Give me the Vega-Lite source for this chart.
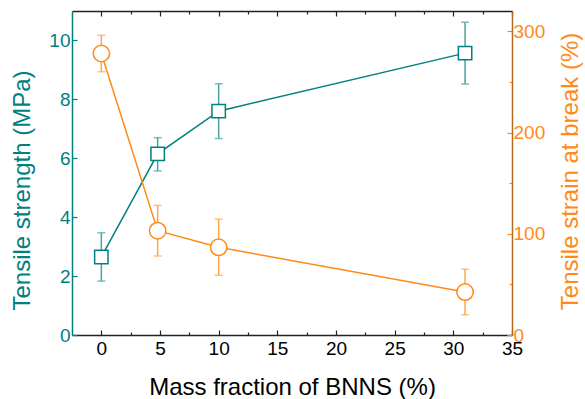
{
  "$schema": "https://vega.github.io/schema/vega-lite/v6.json",
  "width": 440,
  "height": 324,
  "autosize": "none",
  "padding": {"left": 72, "top": 11, "right": 73, "bottom": 64},
  "background": "white",
  "config": {
    "view": {"stroke": null},
    "font": "Liberation Sans",
    "axis": {"labelFont": "Liberation Sans", "titleFont": "Liberation Sans", "labelFontSize": 19, "titleFontSize": 24, "titleFontWeight": "normal", "grid": false, "domainWidth": 1.5, "tickWidth": 1.2}
  },
  "datasets": {
    "strength": [
      {"mass": 0, "value": 2.65, "lo": 1.83, "hi": 3.47},
      {"mass": 4.8, "value": 6.15, "lo": 5.57, "hi": 6.7},
      {"mass": 10, "value": 7.6, "lo": 6.67, "hi": 8.53},
      {"mass": 31, "value": 9.57, "lo": 8.52, "hi": 10.62}
    ],
    "strain": [
      {"mass": 0, "value": 278, "lo": 260, "hi": 296},
      {"mass": 4.8, "value": 103, "lo": 78, "hi": 128},
      {"mass": 10, "value": 86.6, "lo": 59, "hi": 114.5},
      {"mass": 31, "value": 42.4, "lo": 20, "hi": 65}
    ]
  },
  "layer": [
    {
      "data": {"name": "strength"},
      "encoding": {
        "x": {"field": "mass", "type": "quantitative",
          "scale": {"domain": [-2.5, 35], "nice": false, "zero": false},
          "axis": {"orient": "bottom", "title": "Mass fraction of BNNS (%)", "values": [0, 2.5, 5, 7.5, 10, 12.5, 15, 17.5, 20, 22.5, 25, 27.5, 30, 32.5, 35],
            "labelExpr": "datum.value % 5 === 0 ? datum.label : ''",
            "tickSize": {"condition": {"test": "datum.value % 5 === 0", "value": -5}, "value": -3},
            "domainColor": "#222222", "tickColor": "#222222", "labelColor": "black", "titleColor": "black", "labelPadding": 9, "titlePadding": 17, "labelFlush": false}
        }
      },
      "layer": [
        {"mark": {"type": "line", "color": "#00807f", "strokeWidth": 1.5},
         "encoding": {"y": {"field": "value", "type": "quantitative", "title": "Tensile strength (MPa)",
           "scale": {"domain": [0, 11], "nice": false},
           "axis": {"orient": "left", "values": [0, 1, 2, 3, 4, 5, 6, 7, 8, 9, 10],
             "labelExpr": "datum.value % 2 === 0 ? datum.label : ''",
             "tickSize": {"condition": {"test": "datum.value % 2 === 0", "value": -5}, "value": -3},
             "titleY": 179,
             "domainColor": "#00807f", "tickColor": "#00807f", "labelColor": "#00807f", "titleColor": "#00807f", "labelPadding": 7, "titlePadding": 14}}}},
        {"mark": {"type": "errorbar", "ticks": {"size": 8}, "color": "#4aa3a3", "thickness": 1.5},
         "encoding": {"y": {"field": "lo", "type": "quantitative", "title": "Tensile strength (MPa)"}, "y2": {"field": "hi"}}},
        {"mark": {"type": "point", "shape": "square", "size": 180, "filled": true, "fill": "white", "stroke": "#00807f", "strokeWidth": 1.5, "opacity": 1},
         "encoding": {"y": {"field": "value", "type": "quantitative", "title": "Tensile strength (MPa)"}}}
      ]
    },
    {
      "data": {"name": "strain"},
      "encoding": {
        "x": {"field": "mass", "type": "quantitative",
          "scale": {"domain": [-2.5, 35], "nice": false, "zero": false},
          "axis": {"orient": "top", "title": null, "values": [0, 2.5, 5, 7.5, 10, 12.5, 15, 17.5, 20, 22.5, 25, 27.5, 30, 32.5, 35],
            "labels": false,
            "tickSize": {"condition": {"test": "datum.value % 5 === 0", "value": -5}, "value": -3},
            "domainColor": "#222222", "tickColor": "#222222"}
        }
      },
      "layer": [
        {"mark": {"type": "line", "color": "#ff8a17", "strokeWidth": 1.5},
         "encoding": {"y": {"field": "value", "type": "quantitative", "title": "Tensile strain at break (%)",
           "scale": {"domain": [0, 320], "nice": false},
           "axis": {"orient": "right", "values": [0, 50, 100, 150, 200, 250, 300],
             "labelExpr": "datum.value % 100 === 0 ? datum.label : ''",
             "tickSize": {"condition": {"test": "datum.value % 100 === 0", "value": -5}, "value": -3},
             "titleAngle": 270, "titleBaseline": "top", "titleY": 160,
             "domainColor": "#b86a1e", "tickColor": "#ff8a17", "labelColor": "#ff8a17", "titleColor": "#ff8a17", "labelPadding": 6, "titlePadding": 14}}}},
        {"mark": {"type": "errorbar", "ticks": {"size": 8}, "color": "#ffa64d", "thickness": 1.5},
         "encoding": {"y": {"field": "lo", "type": "quantitative", "title": "Tensile strain at break (%)"}, "y2": {"field": "hi"}}},
        {"mark": {"type": "point", "shape": "circle", "size": 270, "filled": true, "fill": "white", "stroke": "#ff8a17", "strokeWidth": 1.5, "opacity": 1},
         "encoding": {"y": {"field": "value", "type": "quantitative", "title": "Tensile strain at break (%)"}}}
      ]
    }
  ],
  "resolve": {"scale": {"y": "independent"}, "axis": {"y": "independent", "x": "independent"}}
}
